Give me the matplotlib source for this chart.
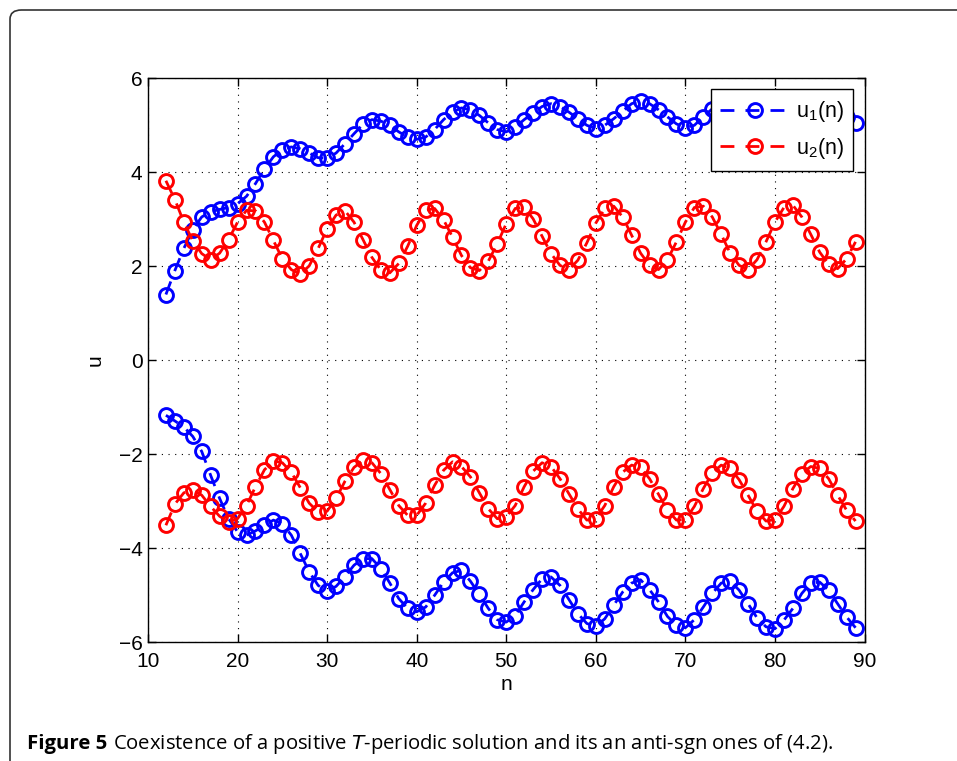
import numpy as np
import matplotlib
matplotlib.use("Agg")
from matplotlib import pyplot as plt
from matplotlib.patches import FancyBboxPatch

plt.rcParams['font.family'] = ['Liberation Sans', 'DejaVu Sans']
plt.rcParams['mathtext.default'] = 'regular'
plt.rcParams['mathtext.fontset'] = 'custom'
plt.rcParams['mathtext.rm'] = 'Liberation Sans'

# n = 12 .. 89
n = np.arange(12, 90)

# upper branch of u1 (positive solution); n=74..88 sit behind the legend
u1_pos = [1.40, 1.91, 2.38, 2.78, 3.05, 3.16, 3.21, 3.25, 3.33, 3.49,
          3.76, 4.07, 4.33, 4.48, 4.54, 4.50, 4.41, 4.31, 4.30, 4.41,
          4.61, 4.82, 5.02, 5.12, 5.09, 5.00, 4.86, 4.75, 4.70, 4.75,
          4.91, 5.12, 5.28, 5.37, 5.33, 5.21, 5.05, 4.91, 4.86, 4.96,
          5.12, 5.26, 5.40, 5.46, 5.40, 5.28, 5.14, 5.00, 4.93, 5.00,
          5.14, 5.30, 5.46, 5.52, 5.46, 5.33, 5.18, 5.03, 4.95, 5.00,
          5.18, 5.35, 5.46, 5.52, 5.46, 5.33, 5.18, 5.03, 4.95, 5.00,
          5.18, 5.35, 5.46, 5.52, 5.46, 5.33, 5.18, 5.05]

u2_pos = [3.82, 3.42, 2.94, 2.54, 2.27, 2.14, 2.28, 2.57, 2.94, 3.19,
          3.18, 2.94, 2.55, 2.16, 1.93, 1.83, 2.01, 2.38, 2.80, 3.09,
          3.18, 2.94, 2.57, 2.19, 1.92, 1.86, 2.06, 2.43, 2.87, 3.19,
          3.23, 2.99, 2.62, 2.23, 1.97, 1.91, 2.11, 2.48, 2.91, 3.23,
          3.26, 3.01, 2.64, 2.27, 2.02, 1.93, 2.13, 2.50, 2.92, 3.23,
          3.28, 3.05, 2.66, 2.28, 2.02, 1.93, 2.14, 2.52, 2.94, 3.25,
          3.28, 3.05, 2.68, 2.28, 2.02, 1.93, 2.14, 2.52, 2.94, 3.25,
          3.30, 3.05, 2.68, 2.30, 2.04, 1.95, 2.16, 2.52]

# anti-sign solution
u1_neg = [-1.17, -1.29, -1.42, -1.62, -1.94, -2.45, -2.94, -3.37, -3.65, -3.72,
          -3.63, -3.51, -3.40, -3.48, -3.72, -4.11, -4.50, -4.79, -4.91, -4.81,
          -4.60, -4.36, -4.22, -4.22, -4.43, -4.74, -5.07, -5.28, -5.35, -5.25,
          -5.00, -4.72, -4.52, -4.47, -4.70, -4.98, -5.28, -5.52, -5.57, -5.43,
          -5.14, -4.88, -4.65, -4.61, -4.79, -5.09, -5.39, -5.60, -5.66, -5.50,
          -5.21, -4.93, -4.74, -4.67, -4.88, -5.14, -5.45, -5.64, -5.69, -5.52,
          -5.25, -4.96, -4.74, -4.70, -4.89, -5.18, -5.48, -5.67, -5.71, -5.53,
          -5.28, -4.96, -4.74, -4.72, -4.89, -5.18, -5.46, -5.69]

u2_neg = [-3.51, -3.06, -2.82, -2.75, -2.87, -3.11, -3.32, -3.44, -3.37, -3.09,
          -2.69, -2.33, -2.14, -2.18, -2.38, -2.71, -3.04, -3.23, -3.21, -2.94,
          -2.57, -2.28, -2.13, -2.18, -2.41, -2.75, -3.09, -3.30, -3.30, -3.04,
          -2.66, -2.34, -2.16, -2.26, -2.48, -2.82, -3.16, -3.37, -3.33, -3.09,
          -2.69, -2.36, -2.18, -2.26, -2.52, -2.84, -3.16, -3.40, -3.37, -3.09,
          -2.69, -2.38, -2.23, -2.28, -2.52, -2.85, -3.19, -3.40, -3.39, -3.11,
          -2.73, -2.40, -2.23, -2.30, -2.54, -2.87, -3.21, -3.42, -3.39, -3.11,
          -2.73, -2.41, -2.26, -2.30, -2.52, -2.87, -3.19, -3.42]

W, H = 957, 761
fig = plt.figure(figsize=(W / 100, H / 100), dpi=100)

# frame of the figure panel
frame = FancyBboxPatch((10 / W, -0.05), 1.1, 1 - 10 / H + 0.05,
                       boxstyle="round,pad=0,rounding_size=0.012",
                       transform=fig.transFigure, fill=False,
                       edgecolor='#333333', linewidth=1.2, clip_on=False)
fig.patches.append(frame)

ax = fig.add_axes([148 / W, 1 - 642.3 / H, 716.5 / W, 564 / H])

style = dict(linestyle='--', marker='o', markersize=10, markerfacecolor='none',
             markeredgewidth=2.1, linewidth=2, dashes=(5, 4))
ax.plot(n, u1_pos, color='#0000ff', label='u$_1$(n)', **style)
ax.plot(n, u2_pos, color='#ff0000', label='u$_2$(n)', **style)
ax.plot(n, u1_neg, color='#0000ff', **style)
ax.plot(n, u2_neg, color='#ff0000', **style)

fs = 15
ax.set_xlim(10, 90)
ax.set_ylim(-6, 6)
ax.set_xticks(range(10, 91, 10))
ax.set_yticks(range(-6, 7, 2))
ax.set_yticklabels(['\u22126', '\u22124', '\u22122', '0', '2', '4', '6'])
ax.tick_params(direction='in', top=True, right=True, labelsize=fs, length=6, width=1)
ax.tick_params(axis='x', pad=7)
ax.tick_params(axis='y', pad=4)
ax.grid(True, color='black', linestyle=(0, (1, 5)), linewidth=0.8)
for s in ax.spines.values():
    s.set_linewidth(1)
ax.set_xlabel('n', fontsize=fs, labelpad=3)
ax.set_ylabel('u', fontsize=fs, labelpad=10)

leg = ax.legend(loc='upper right', fontsize=15.5, fancybox=False, framealpha=1,
                edgecolor='black', borderaxespad=0.52, handlelength=3.2,
                handletextpad=0.3, borderpad=0.45, labelspacing=0.55)
leg.get_frame().set_linewidth(1)

# caption, sized to the width it has in the picture
cap_y = 1 - 744 / H
t1 = fig.text(27 / W, cap_y, 'Figure 5', fontsize=12, fontweight='bold',
              family='Open Sans', va='center')
t2 = fig.text(113 / W, cap_y,
              'Coexistence of a positive $\\it{T}$-periodic solution and its an anti-sgn ones of (4.2).',
              fontsize=12, family='Open Sans', va='center')
fig.canvas.draw()
r = fig.canvas.get_renderer()
t1.set_fontsize(12 * 80 / t1.get_window_extent(r).width)
t2.set_fontsize(12 * 720 / t2.get_window_extent(r).width)

fig.savefig('out.png', dpi=100)
